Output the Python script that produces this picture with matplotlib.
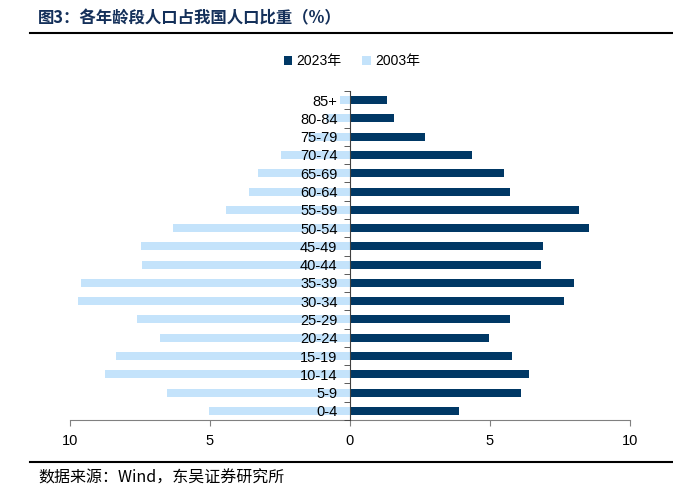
import matplotlib
matplotlib.use('Agg')
from matplotlib import pyplot as plt
from matplotlib.ticker import FixedLocator, FuncFormatter
import numpy as np

plt.rcParams['font.family'] = ['Liberation Sans', 'Noto Sans CJK SC', 'DejaVu Sans']

age_groups = ['85+', '80-84', '75-79', '70-74', '65-69', '60-64', '55-59', '50-54',
              '45-49', '40-44', '35-39', '30-34', '25-29', '20-24', '15-19', '10-14',
              '5-9', '0-4']
share_2023 = [1.31, 1.58, 2.67, 4.36, 5.50, 5.70, 8.17, 8.55, 6.90, 6.83, 7.99, 7.65,
              5.70, 4.98, 5.80, 6.39, 6.11, 3.89]
share_2003 = [0.36, 0.85, 1.50, 2.46, 3.29, 3.61, 4.43, 6.31, 7.48, 7.43, 9.61, 9.70,
              7.60, 6.79, 8.36, 8.75, 6.55, 5.04]

dark = '#003865'
light = '#c4e3fb'

fig = plt.figure(figsize=(6.73, 4.98), dpi=100)
ax = fig.add_axes([70/673, 1 - 420/498, 560/673, 329/498])

y = np.arange(len(age_groups))[::-1]
h = 0.44
ax.barh(y, [-v for v in share_2003], height=h, color=light, label='2003年', zorder=2)
ax.barh(y, share_2023, height=h, color=dark, label='2023年', zorder=2)

ax.set_xlim(-10, 10)
ax.set_ylim(-0.5, len(age_groups) - 0.5)

ax.spines['top'].set_visible(False)
ax.spines['right'].set_visible(False)
ax.spines['left'].set_position(('data', 0))
ax.spines['left'].set_color('#404040')
ax.spines['bottom'].set_color('#808080')
ax.spines['left'].set_zorder(3)

ax.set_xticks([-10, -5, 0, 5, 10])
ax.xaxis.set_major_formatter(FuncFormatter(lambda v, p: f'{abs(v):g}'))
ax.tick_params(axis='x', length=4, color='#808080', labelsize=10.5, pad=6)

ax.set_yticks(y)
ax.set_yticklabels(age_groups)
ax.tick_params(axis='y', which='major', length=0, labelsize=10.5, pad=9)
ax.yaxis.set_minor_locator(FixedLocator(np.arange(-0.5, len(age_groups), 1)))
ax.tick_params(axis='y', which='minor', length=4, color='#404040')
ax.yaxis.set_zorder(5)

handles, labels = ax.get_legend_handles_labels()
fig.legend(handles[::-1], labels[::-1], loc='center', bbox_to_anchor=(352/673, 1 - 61/498),
           ncol=2, frameon=False, fontsize=10, handlelength=0.6, handleheight=0.6,
           handletextpad=0.3, columnspacing=1.5)

fig.text(38/673, 1 - 18/498, '图3：各年龄段人口占我国人口比重（%）', fontsize=11.8,
         fontweight='bold', color='#14305a', va='center', ha='left',
         family=['Noto Sans CJK SC', 'DejaVu Sans'])
fig.add_artist(plt.Line2D([30/673, 1], [1 - 33/498, 1 - 33/498], color='black', lw=1.5))
fig.add_artist(plt.Line2D([30/673, 1], [1 - 462/498, 1 - 462/498], color='black', lw=1.5))
fig.text(38/673, 1 - 478/498, '数据来源：Wind，东吴证券研究所', fontsize=11.5,
         va='center', ha='left', family=['Noto Sans CJK SC', 'DejaVu Sans'])

plt.savefig('out.png', dpi=100)
